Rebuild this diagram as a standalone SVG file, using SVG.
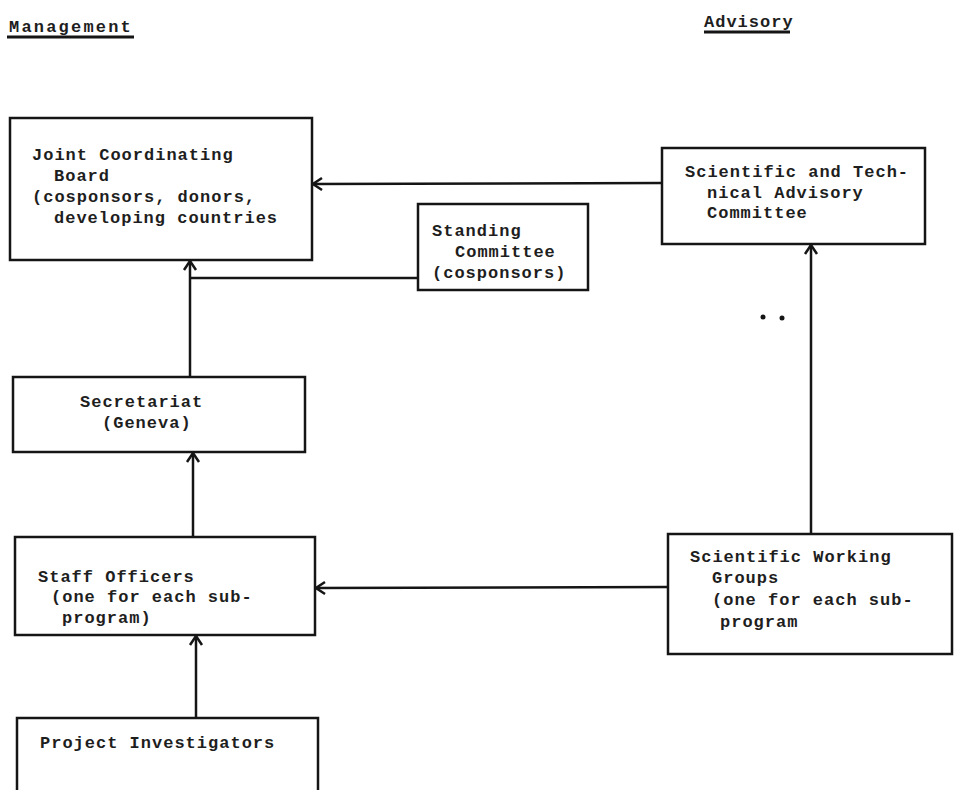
<svg xmlns="http://www.w3.org/2000/svg" width="954" height="790" viewBox="0 0 954 790">
<defs>
<style>
.t{font-family:"Liberation Mono","DejaVu Sans Mono",monospace;font-weight:bold;font-size:17px;letter-spacing:1px;fill:#1e1e1e}
.h{letter-spacing:2.2px}
.box{fill:#ffffff;stroke:#151515;stroke-width:2.5}
.c{fill:none;stroke:#151515;stroke-width:2.5}
.u{stroke:#151515;stroke-width:3}
</style>
<marker id="ah" viewBox="-12 -8 14 16" markerWidth="14" markerHeight="16" refX="0" refY="0" orient="auto" markerUnits="userSpaceOnUse">
<path d="M-9,-6 L0,0 L-9,6" fill="none" stroke="#151515" stroke-width="2.5"/>
</marker>
</defs>
<rect width="954" height="790" fill="#ffffff"/>

<g id="headers">
<text class="t h" x="9" y="32">Management</text>
<line class="u" x1="7" y1="37" x2="134" y2="37"/>
<text class="t" x="704" y="27">Advisory</text>
<line class="u" x1="704" y1="32" x2="790" y2="32"/>
</g>

<g id="jcb">
<rect class="box" x="10" y="118" width="302" height="142"/>
<text class="t" x="32" y="160">Joint Coordinating</text>
<text class="t" x="54" y="181">Board</text>
<text class="t" x="32" y="202">(cosponsors, donors,</text>
<text class="t" x="54" y="223">developing countries</text>
</g>

<g id="stac">
<rect class="box" x="662" y="148" width="263" height="96"/>
<text class="t" x="685" y="177">Scientific and Tech-</text>
<text class="t" x="707" y="198">nical Advisory</text>
<text class="t" x="707" y="218">Committee</text>
</g>

<g id="standing">
<rect class="box" x="418" y="204" width="170" height="86"/>
<text class="t" x="432" y="236">Standing</text>
<text class="t" x="455" y="257">Committee</text>
<text class="t" x="432" y="278">(cosponsors)</text>
</g>

<g id="secretariat">
<rect class="box" x="13" y="377" width="292" height="75"/>
<text class="t" x="80" y="407">Secretariat</text>
<text class="t" x="102" y="428">(Geneva)</text>
</g>

<g id="staff">
<rect class="box" x="15" y="537" width="300" height="98"/>
<text class="t" x="38" y="582">Staff Officers</text>
<text class="t" x="51" y="602">(one for each sub-</text>
<text class="t" x="62" y="623">program)</text>
</g>

<g id="swg">
<rect class="box" x="668" y="534" width="284" height="120"/>
<text class="t" x="690" y="562">Scientific Working</text>
<text class="t" x="712" y="583">Groups</text>
<text class="t" x="712" y="605">(one for each sub-</text>
<text class="t" x="720" y="627">program</text>
</g>

<g id="pi">
<rect class="box" x="17" y="718" width="301" height="80"/>
<text class="t" x="40" y="748">Project Investigators</text>
</g>

<g id="connectors">
<line class="c" x1="662" y1="183" x2="313" y2="184" marker-end="url(#ah)"/>
<polyline class="c" points="418,278 190,278"/>
<line class="c" x1="190" y1="376" x2="190" y2="261" marker-end="url(#ah)"/>
<line class="c" x1="193" y1="536" x2="193" y2="453" marker-end="url(#ah)"/>
<line class="c" x1="668" y1="587" x2="316" y2="588" marker-end="url(#ah)"/>
<line class="c" x1="811" y1="533" x2="811" y2="245" marker-end="url(#ah)"/>
<line class="c" x1="196" y1="718" x2="196" y2="636" marker-end="url(#ah)"/>
</g>

<g id="marks" fill="#151515">
<circle cx="763" cy="317" r="2.5"/>
<circle cx="782" cy="318" r="2.5"/>
</g>
</svg>
